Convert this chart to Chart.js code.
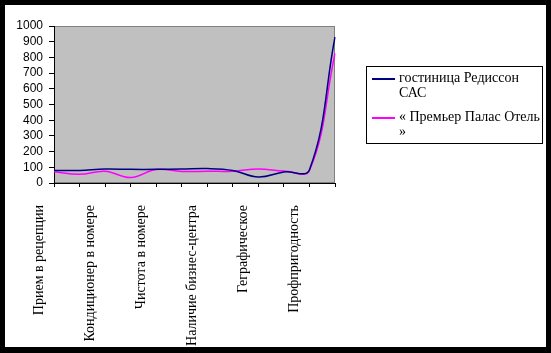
<!DOCTYPE html>
<html>
<head>
<meta charset="utf-8">
<script src="https://cdn.jsdelivr.net/npm/chart.js@4"></script>
<style>
    html, body { margin: 0; padding: 0; background: #000; }
    #frame { position: absolute; left: 5px; top: 5px; width: 541px; height: 342px; background: #fff; overflow: hidden; }
    #chart { position: absolute; left: 0; top: 0; }
    #legend { position: absolute; left: 361px; top: 61px; width: 175px; height: 76px; border: 1px solid #000;
              font: 14px "Liberation Serif", "Times New Roman", serif; color: #000; }
    .swatch { position: absolute; left: 5px; width: 23px; height: 2px; }
    .text { position: absolute; left: 32px; white-space: nowrap; line-height: 14.5px; }
</style>
</head>
<body>
<div id="frame">
    <canvas id="chart" width="541" height="342"></canvas>
    <div id="legend"></div>
</div>
<script>
// categories: only every other label is visible in the picture
const categories = ['Прием в рецепции', '', 'Кондиционер в номере', '', 'Чистота в номере', '',
    'Наличие бизнес-центра', '', 'Геграфическое', '', 'Профпригодность', ''];
const radissonValues = [79, 80, 89, 87, 87, 89, 92, 80, 38, 70, 85, 930];
const premierValues = [71, 55, 75, 35, 86, 74, 75, 75, 89, 77, 80, 826];
const yTicks = [0, 100, 200, 300, 400, 500, 600, 700, 800, 900, 1000];

const seriesNames = ['гостиница Редиссон САС', '« Премьер Палас Отель »'];
const seriesColors = ['#000080', '#ff00ff'];
// line breaks as in the legend of the picture
const legendLines = [['гостиница Редиссон', 'САС'], ['« Премьер Палас Отель', '»']];

// grey plot area with a thin dark grey frame (Excel style)
const plotBackground = {
    id: 'plotBackground',
    beforeDraw(chart) {
        const { ctx, chartArea: a } = chart;
        ctx.save();
        ctx.fillStyle = '#c0c0c0';
        ctx.fillRect(a.left, a.top, a.right - a.left, a.bottom - a.top);
        ctx.strokeStyle = '#808080';
        ctx.lineWidth = 1;
        ctx.strokeRect(a.left + 0.5, a.top + 0.5, a.right - a.left - 1, a.bottom - a.top - 1);
        ctx.restore();
    }
};

function buildLegend() {
    const legend = document.getElementById('legend');
    const tops = [4, 43];
    legend.innerHTML = legendLines.map((lines, i) => `
        <div class="swatch" style="top:${tops[i] + 7}px; background:${seriesColors[i]}"></div>
        <div class="text" style="top:${tops[i]}px">${lines.join('<br>')}</div>
    `).join('');
}

document.addEventListener('DOMContentLoaded', () => {
    buildLegend();

    new Chart(document.getElementById('chart'), {
        type: 'line',
        data: {
            labels: categories,
            datasets: [{
                label: seriesNames[0],
                data: radissonValues,
                borderColor: seriesColors[0],
                backgroundColor: seriesColors[0]
            }, {
                label: seriesNames[1],
                data: premierValues,
                borderColor: seriesColors[1],
                backgroundColor: seriesColors[1]
            }]
        },
        options: {
            responsive: false,
            animation: false,
            layout: { padding: { left: 0, right: 211, top: 21, bottom: 0 } },
            plugins: { legend: { display: false }, tooltip: { enabled: false } },
            elements: {
                point: { radius: 0 },
                line: { borderWidth: 1.5, tension: 0.4 }
            },
            scales: {
                x: {
                    type: 'category',
                    offset: false,
                    grid: { drawOnChartArea: false, tickLength: 4, color: '#000' },
                    border: { color: '#000', width: 1 },
                    ticks: {
                        autoSkip: false,
                        minRotation: 90,
                        maxRotation: 90,
                        labelOffset: -15,
                        padding: 18,
                        color: '#000',
                        font: { family: '"Liberation Serif", serif', size: 14 },
                        callback: (value, index) => categories[index]
                    },
                    afterFit(scale) { scale.height = 164; }
                },
                y: {
                    min: 0,
                    max: 1000,
                    afterBuildTicks(scale) { scale.ticks = yTicks.map(v => ({ value: v })); },
                    grid: { drawOnChartArea: false, tickLength: 5, color: '#000' },
                    border: { color: '#000', width: 1 },
                    ticks: {
                        autoSkip: false,
                        padding: 6,
                        color: '#000',
                        font: { family: '"Liberation Sans", Arial, sans-serif', size: 12 },
                        callback: (value) => String(value)
                    },
                    afterFit(scale) { scale.width = 49; }
                }
            }
        },
        plugins: [plotBackground]
    });
});
</script>
</body>
</html>
